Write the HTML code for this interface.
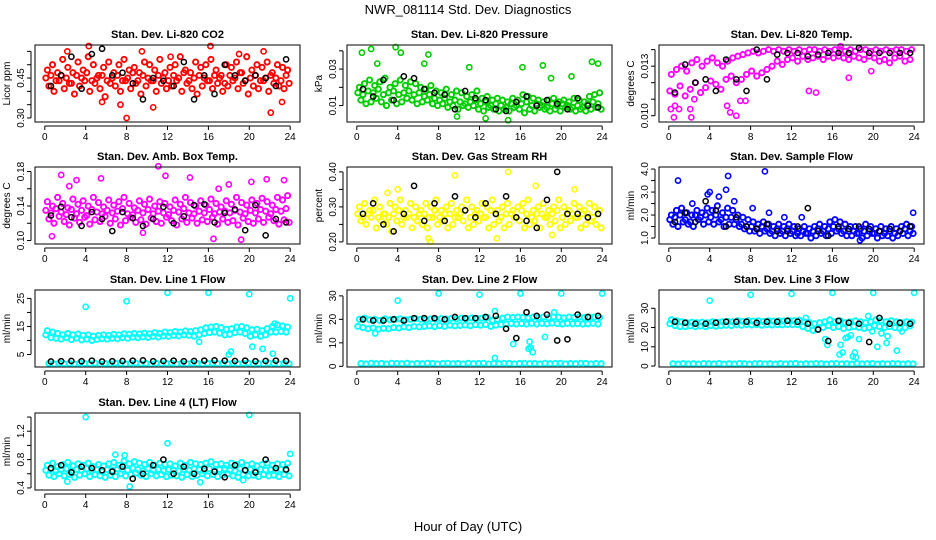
<!DOCTYPE html>
<html><head><meta charset="utf-8"><style>
html,body{margin:0;padding:0;background:#fff}
svg{display:block;font-family:"Liberation Sans",sans-serif}
</style></head><body>
<svg id="chart" width="936" height="540" viewBox="0 0 936 540" xmlns="http://www.w3.org/2000/svg">
<rect width="936" height="540" fill="#fff"/>
<text x="468" y="14" font-size="13" text-anchor="middle">NWR_081114 Std. Dev. Diagnostics</text>
<text x="468" y="531" font-size="13" text-anchor="middle">Hour of Day (UTC)</text>
</svg>
<script>
// ---- data arrays ----
const co2A=[0.48,0.50,0.47,0.52,0.49,0.47,0.51,0.48,0.53,0.50,0.46,0.49,0.51,0.47,0.50,0.52,0.48,0.49,0.47,0.51,0.50,0.48,0.52,0.47,0.49,0.50,0.53,0.48,0.47,0.51,0.49,0.50,0.52,0.48,0.46,0.50,0.49,0.51,0.47,0.53,0.48,0.50,0.49,0.51,0.47,0.50,0.49,0.48];
const co2M=[0.45,0.46,0.44,0.46,0.45,0.43,0.46,0.45,0.47,0.44,0.45,0.46,0.44,0.45,0.46,0.44,0.45,0.47,0.44,0.46,0.45,0.44,0.46,0.45,0.44,0.46,0.45,0.47,0.44,0.45,0.46,0.45,0.44,0.46,0.45,0.43,0.46,0.45,0.47,0.44,0.45,0.46,0.44,0.45,0.46,0.45,0.44,0.46];
const co2B=[0.42,0.40,0.44,0.41,0.43,0.39,0.42,0.44,0.40,0.43,0.41,0.38,0.43,0.42,0.40,0.44,0.41,0.43,0.39,0.42,0.44,0.40,0.43,0.41,0.42,0.44,0.40,0.43,0.41,0.39,0.42,0.44,0.41,0.43,0.40,0.42,0.44,0.41,0.43,0.39,0.42,0.41,0.44,0.40,0.43,0.42,0.41,0.43];
const co2OutH=[2.2,4.3,5.6,7.4,8.0,9.5,10.6,12.3,16.2,19.0,21.4,22.1,23.2];
const co2OutV=[0.55,0.57,0.36,0.35,0.30,0.55,0.34,0.53,0.57,0.54,0.55,0.32,0.36];
const co2Blk=[0.42,0.46,0.53,0.41,0.54,0.56,0.46,0.47,0.43,0.37,0.45,0.44,0.42,0.51,0.37,0.46,0.39,0.50,0.46,0.44,0.46,0.45,0.42,0.52];

const prA=[0.020,0.022,0.024,0.021,0.023,0.025,0.020,0.022,0.024,0.021,0.023,0.022,0.020,0.019,0.021,0.018,0.017,0.019,0.016,0.018,0.017,0.015,0.016,0.018,0.014,0.015,0.013,0.014,0.013,0.012,0.014,0.013,0.016,0.015,0.014,0.013,0.012,0.013,0.014,0.012,0.013,0.012,0.014,0.013,0.012,0.015,0.016,0.017];
const prM=[0.017,0.016,0.018,0.017,0.019,0.016,0.017,0.018,0.016,0.017,0.018,0.016,0.017,0.015,0.016,0.014,0.013,0.014,0.012,0.013,0.012,0.011,0.012,0.013,0.011,0.012,0.010,0.011,0.010,0.009,0.011,0.010,0.011,0.012,0.010,0.011,0.010,0.009,0.011,0.010,0.011,0.010,0.009,0.010,0.009,0.011,0.012,0.011];
const prB=[0.013,0.011,0.012,0.014,0.012,0.010,0.013,0.011,0.012,0.014,0.013,0.011,0.012,0.013,0.011,0.010,0.011,0.009,0.010,0.008,0.010,0.009,0.010,0.008,0.007,0.009,0.008,0.007,0.008,0.007,0.009,0.008,0.006,0.008,0.007,0.009,0.008,0.007,0.008,0.007,0.009,0.008,0.007,0.008,0.007,0.008,0.009,0.008];
const prOutH=[0.5,1.4,2.0,3.8,4.3,6.6,7.0,9.8,11.0,12.6,14.8,16.2,18.2,19.0,21.0,23.0,23.6];
const prOutV=[0.039,0.041,0.033,0.042,0.039,0.033,0.038,0.004,0.031,0.003,0.002,0.031,0.032,0.025,0.026,0.034,0.033];
const prBlk=[0.019,0.015,0.024,0.013,0.026,0.025,0.019,0.017,0.016,0.008,0.018,0.014,0.013,0.008,0.007,0.012,0.015,0.010,0.013,0.011,0.008,0.014,0.010,0.009];

const tmA=[0.0125,0.0128,0.0130,0.0127,0.0132,0.0134,0.0130,0.0133,0.0135,0.0132,0.0130,0.0133,0.0135,0.0136,0.0137,0.0138,0.0139,0.0138,0.0139,0.0140,0.0139,0.0140,0.0139,0.0140,0.0139,0.0140,0.0139,0.0140,0.0140,0.0139,0.0140,0.0139,0.0140,0.0140,0.0139,0.0140,0.0139,0.0140,0.0140,0.0139,0.0140,0.0139,0.0140,0.0139,0.0140,0.0140,0.0139,0.0140];
const tmB=[0.0115,0.0113,0.0118,0.0112,0.0116,0.0120,0.0114,0.0117,0.0121,0.0119,0.0116,0.0122,0.0124,0.0120,0.0122,0.0125,0.0127,0.0124,0.0126,0.0128,0.0130,0.0133,0.0131,0.0134,0.0135,0.0133,0.0136,0.0134,0.0135,0.0136,0.0134,0.0136,0.0135,0.0136,0.0135,0.0134,0.0136,0.0135,0.0134,0.0136,0.0135,0.0133,0.0134,0.0132,0.0135,0.0136,0.0133,0.0134];
const tmOutH=[0.2,0.5,0.6,1.0,2.1,2.2,2.5,5.7,6.0,6.6,7.0,7.5,13.7,14.4,16.8,17.6,19.8];
const tmOutV=[0.0104,0.0099,0.0106,0.0104,0.0104,0.0099,0.0110,0.0106,0.0102,0.0100,0.0109,0.0109,0.0115,0.0114,0.0142,0.0123,0.0127];
const tmBlk=[0.0114,0.0131,0.0120,0.0122,0.0115,0.0134,0.0122,0.0115,0.0140,0.0122,0.0137,0.0138,0.0138,0.0136,0.0137,0.0138,0.0138,0.0138,0.0141,0.0138,0.0138,0.0138,0.0138,0.0138];

const bxA=[0.145,0.140,0.150,0.143,0.138,0.148,0.142,0.146,0.140,0.150,0.144,0.139,0.147,0.141,0.145,0.150,0.143,0.138,0.146,0.142,0.148,0.140,0.145,0.143,0.139,0.147,0.142,0.150,0.144,0.140,0.146,0.141,0.148,0.143,0.139,0.146,0.142,0.150,0.144,0.141,0.147,0.143,0.149,0.145,0.141,0.150,0.147,0.152];
const bxM=[0.135,0.132,0.137,0.133,0.130,0.136,0.131,0.135,0.129,0.136,0.133,0.131,0.135,0.132,0.134,0.137,0.131,0.130,0.135,0.132,0.136,0.131,0.134,0.132,0.130,0.135,0.133,0.137,0.132,0.131,0.134,0.132,0.136,0.131,0.133,0.134,0.132,0.135,0.133,0.131,0.135,0.132,0.136,0.134,0.131,0.136,0.134,0.137];
const bxB=[0.125,0.120,0.128,0.122,0.118,0.126,0.121,0.127,0.119,0.124,0.122,0.128,0.120,0.125,0.118,0.123,0.127,0.121,0.124,0.119,0.126,0.122,0.120,0.127,0.123,0.118,0.125,0.121,0.126,0.120,0.124,0.122,0.127,0.119,0.125,0.121,0.123,0.118,0.126,0.122,0.120,0.125,0.121,0.127,0.123,0.119,0.124,0.121];
const bxOutH=[0.7,1.6,2.4,3.1,5.5,9.6,11.1,11.8,14.2,16.5,17.0,18.0,19.2,20.2,21.7,23.4];
const bxOutV=[0.105,0.176,0.163,0.170,0.172,0.109,0.186,0.175,0.173,0.102,0.160,0.165,0.101,0.168,0.171,0.170];
const bxBlk=[0.129,0.139,0.127,0.117,0.133,0.125,0.111,0.133,0.126,0.117,0.125,0.139,0.120,0.128,0.141,0.142,0.121,0.132,0.136,0.112,0.141,0.106,0.125,0.121];

const rhA=[0.30,0.31,0.29,0.32,0.30,0.28,0.31,0.30,0.32,0.29,0.31,0.30,0.29,0.31,0.30,0.32,0.29,0.30,0.31,0.29,0.30,0.32,0.30,0.29,0.31,0.30,0.32,0.29,0.30,0.31,0.29,0.30,0.31,0.32,0.29,0.30,0.31,0.29,0.30,0.32,0.30,0.29,0.31,0.30,0.29,0.31,0.30,0.29];
const rhM=[0.28,0.27,0.28,0.29,0.27,0.28,0.27,0.28,0.29,0.27,0.28,0.27,0.28,0.28,0.27,0.29,0.27,0.28,0.28,0.27,0.28,0.29,0.27,0.28,0.28,0.27,0.29,0.28,0.27,0.28,0.28,0.27,0.29,0.28,0.27,0.28,0.28,0.27,0.28,0.29,0.27,0.28,0.28,0.27,0.28,0.28,0.27,0.28];
const rhB=[0.26,0.25,0.27,0.24,0.26,0.25,0.23,0.26,0.25,0.27,0.24,0.26,0.25,0.24,0.27,0.25,0.26,0.24,0.25,0.27,0.26,0.24,0.25,0.26,0.27,0.24,0.25,0.26,0.24,0.25,0.27,0.26,0.24,0.25,0.26,0.24,0.27,0.25,0.26,0.24,0.25,0.26,0.27,0.24,0.25,0.26,0.25,0.24];
const rhOutH=[3.0,4.0,7.0,7.2,9.6,13.7,14.8,17.5,19.1,21.3];
const rhOutV=[0.34,0.35,0.21,0.20,0.39,0.21,0.40,0.36,0.22,0.35];
const rhBlk=[0.28,0.31,0.25,0.23,0.28,0.36,0.26,0.31,0.26,0.33,0.29,0.27,0.31,0.28,0.33,0.27,0.26,0.24,0.32,0.40,0.28,0.28,0.27,0.28];

const sfA=[2.0,2.2,2.3,2.1,2.0,2.2,2.1,2.3,2.2,2.4,2.1,2.3,2.2,2.0,1.9,1.8,1.7,1.6,1.7,1.6,1.5,1.6,1.5,1.6,1.5,1.4,1.5,1.4,1.5,1.6,1.5,1.7,1.8,1.7,1.6,1.5,1.5,1.4,1.6,1.5,1.4,1.5,1.4,1.5,1.4,1.5,1.6,1.5];
const sfM=[1.8,1.9,2.0,1.8,1.7,2.0,1.9,2.0,1.9,2.0,1.8,1.9,1.9,1.8,1.6,1.5,1.5,1.4,1.5,1.4,1.3,1.4,1.3,1.4,1.3,1.2,1.3,1.2,1.3,1.4,1.3,1.4,1.5,1.4,1.3,1.3,1.3,1.2,1.3,1.3,1.2,1.3,1.2,1.3,1.2,1.3,1.4,1.3];
const sfB=[1.6,1.5,1.7,1.6,1.5,1.8,1.6,1.7,1.6,1.7,1.5,1.6,1.6,1.5,1.4,1.3,1.3,1.2,1.3,1.2,1.1,1.2,1.1,1.2,1.1,1.1,1.2,1.0,1.1,1.2,1.1,1.2,1.3,1.2,1.1,1.1,1.2,1.0,1.1,1.2,1.0,1.1,1.1,1.0,1.1,1.2,1.1,1.2];
const sfOutH=[0.9,2.3,3.8,4.0,4.9,5.6,5.8,6.4,8.2,9.4,9.8,11.3,13.0,18.7,23.9];
const sfOutV=[3.5,2.5,2.9,3.0,2.8,3.1,3.7,2.6,2.3,3.9,2.1,1.9,1.9,0.9,2.1];
const sfBlk=[1.7,2.1,1.7,2.6,2.2,1.5,1.9,1.5,1.4,1.6,1.3,1.3,1.5,2.3,1.3,1.1,1.5,1.4,1.5,1.4,1.3,1.4,1.3,1.5];

const l1A=[13.5,13.0,12.5,12.0,12.5,12.0,12.3,11.8,12.0,11.5,11.8,12.0,11.8,12.2,12.0,12.4,12.2,12.5,12.3,12.6,12.4,12.8,12.5,13.0,12.8,13.2,13.0,13.4,13.2,13.5,13.8,14.5,14.8,15.0,14.6,14.0,14.2,14.8,15.0,14.5,13.8,14.0,13.5,14.2,15.0,15.5,15.2,14.8];
const l1B=[12.0,11.0,10.8,10.5,11.0,10.3,10.8,10.2,10.5,10.0,10.4,10.6,10.5,10.8,10.6,11.0,10.8,11.2,11.0,11.3,11.1,11.5,11.2,11.6,11.5,11.8,11.6,12.0,11.8,11.5,12.0,12.5,12.8,13.0,12.6,12.0,12.2,12.8,13.0,12.5,11.5,12.0,11.5,12.0,13.0,13.0,13.2,13.0];
const l1Base=[1.8,1.6,1.9,1.7,1.8,1.6,1.9,1.8,1.7,1.9,1.6,1.8,1.7,1.9,1.8,1.6,1.8,1.9,1.7,1.8,1.6,1.9,1.7,1.8,1.9,1.6,1.8,1.7,1.9,1.8,1.6,1.8,1.9,1.7,1.8,1.6,1.9,1.7,1.8,1.9,1.6,1.8,1.7,1.9,1.8,1.6,1.8,1.7];
const l1OutH=[4.0,8.0,12.0,15.1,16.0,18.0,18.2,20.0,20.3,21.3,22.3,22.5,24.0];
const l1OutV=[22,24,27,9.5,27,5,6,26.5,7.8,7,5.3,16,25];
const l1Blk=[2.5,2.6,2.7,2.6,2.8,2.5,2.6,2.7,2.8,2.9,2.6,2.7,2.8,2.6,2.7,2.8,2.9,2.8,2.7,2.8,2.6,2.7,2.8,2.7];

const l2A=[20.0,20.5,19.8,20.0,19.5,20.2,19.8,20.0,20.2,19.8,20.0,20.3,20.0,19.8,20.2,20.0,20.3,20.1,20.4,20.2,20.5,20.3,20.6,20.4,20.5,20.8,19.5,20.0,20.5,21.0,20.8,21.0,20.8,20.6,21.0,20.8,21.0,20.7,21.0,20.9,20.6,21.0,20.8,21.0,20.7,20.9,21.0,20.8];
const l2B=[17.0,16.5,16.0,16.3,15.8,16.2,16.0,16.5,16.3,16.8,16.5,17.0,16.8,17.0,17.2,16.9,17.3,17.0,17.5,17.2,17.4,17.6,17.3,17.7,17.5,17.8,17.0,17.5,17.8,18.0,18.2,18.0,18.2,18.0,18.3,18.0,18.3,18.1,18.4,18.2,18.0,18.3,18.1,18.2,18.0,18.1,18.3,18.0];
const l2Base=[1.2,1.0,1.3,1.1,1.2,1.0,1.3,1.2,1.1,1.3,1.0,1.2,1.1,1.3,1.2,1.0,1.2,1.3,1.1,1.2,1.0,1.3,1.1,1.2,1.3,1.0,1.2,1.1,1.3,1.2,1.0,1.2,1.3,1.1,1.2,1.0,1.3,1.1,1.2,1.3,1.0,1.2,1.1,1.3,1.2,1.0,1.2,1.1];
const l2OutH=[1.8,4.0,8.0,12.0,13.5,13.5,15.3,16.0,16.8,16.9,17.0,17.2,18.4,19.3,20.0,24.0];
const l2OutV=[14,28,31,30.5,23.5,3.5,9.5,31,7.5,10.5,8,6,12.5,23,31,31];
const l2Blk=[20,19.5,19.5,20,19.5,20.5,20.5,20.5,20,21,20.5,20.5,21,21.5,16,12,23,21.5,22,11,11.5,22,21,21.5];

const l3A=[24,23.5,23,22.5,22.8,22.5,22.8,22.5,23,22.7,23,23.2,23,23.5,23.2,23.5,23.3,23.5,23.2,23.5,23.3,23.5,23.4,23.6,23.5,23.8,23.0,22.5,22.0,22.5,23,24,23,23.5,22.5,23,23.5,23,22.5,23,24,23.5,23,23.5,23,22.5,23,22.8];
const l3B=[22,21,20.5,20.5,20.8,20.5,20.8,20.5,21,20.7,21,21.2,21,21.5,21.2,21.5,21.3,21.5,21.2,21.5,21.3,21.5,21.4,21.6,21.5,21.5,20.5,19.5,18.5,19,20,21,20,20.5,19.5,20,20.5,20,19.5,20,21,20.5,20,20.5,20,19.5,20,20.8];
const l3Base=[1.2,1.0,1.3,1.1,1.2,1.0,1.3,1.2,1.1,1.3,1.0,1.2,1.1,1.3,1.2,1.0,1.2,1.3,1.1,1.2,1.0,1.3,1.1,1.2,1.3,1.0,1.2,1.1,1.3,1.2,1.0,1.2,1.3,1.1,1.2,1.0,1.3,1.1,1.2,1.3,1.0,1.2,1.1,1.3,1.2,1.0,1.2,1.1];
const l3OutH=[4,8,12,16,20,24,13.4,15.3,15.5,16.7,16.8,17.0,17.3,17.5,17.8,18.0,18.2,18.3,18.6,19.5,19.9,20.4,20.8,21.3,21.4,22.3,22.8];
const l3OutV=[34,37,37.5,38,38,38,25,14,11,6,11,7,14.5,15,16,5,7,4.5,14,26,18,10,17,12,15.5,8,18];
const l3Blk=[23,22.5,22,22,22.5,23,23,23,22.5,23,23,23.5,23,22,19,13,23.5,22.5,22,12.5,25,22,22.5,22];

const l4A=[0.72,0.75,0.70,0.73,0.76,0.71,0.74,0.72,0.75,0.70,0.73,0.71,0.74,0.76,0.72,0.78,0.74,0.77,0.75,0.73,0.76,0.72,0.75,0.73,0.74,0.71,0.75,0.72,0.76,0.74,0.73,0.75,0.77,0.73,0.74,0.72,0.75,0.73,0.76,0.72,0.74,0.71,0.73,0.75,0.72,0.74,0.73,0.75];
const l4M=[0.65,0.66,0.64,0.66,0.67,0.63,0.66,0.65,0.67,0.64,0.66,0.63,0.66,0.65,0.67,0.66,0.65,0.68,0.66,0.64,0.67,0.65,0.66,0.64,0.66,0.65,0.64,0.66,0.65,0.67,0.66,0.64,0.67,0.65,0.66,0.67,0.65,0.64,0.67,0.65,0.66,0.64,0.66,0.65,0.66,0.64,0.66,0.65];
const l4B=[0.58,0.56,0.60,0.57,0.59,0.55,0.58,0.60,0.56,0.59,0.57,0.55,0.58,0.56,0.60,0.57,0.59,0.61,0.58,0.56,0.60,0.57,0.59,0.56,0.58,0.57,0.55,0.59,0.56,0.58,0.60,0.57,0.59,0.56,0.58,0.60,0.57,0.55,0.59,0.57,0.58,0.56,0.59,0.57,0.58,0.56,0.59,0.57];
const l4OutH=[2.2,4.0,6.9,7.8,8.3,12.0,15.2,19.4,20.0,24.0];
const l4OutV=[0.49,1.4,0.87,0.86,0.42,1.03,0.48,0.51,1.43,0.88];
const l4Blk=[0.68,0.72,0.62,0.70,0.68,0.65,0.63,0.70,0.53,0.60,0.72,0.80,0.60,0.70,0.60,0.67,0.63,0.55,0.72,0.65,0.62,0.80,0.68,0.66];

const xTicks=[0,4,8,12,16,20,24];

const panels=[
 {name:'co2',title:'Stan. Dev. Li-820 CO2',ylab:'Licor ppm',col:'#ff0000',r:0,c:0,lo:0.285,hi:0.574,ticks:[0.30,0.35,0.40,0.45,0.50,0.55],labs:['0.30','0.45'],fix:2,series:[co2A,co2M,co2B],oh:co2OutH,ov:co2OutV,blk:co2Blk},
 {name:'pressure',title:'Stan. Dev. Li-820 Pressure',ylab:'kPa',col:'#00cd00',r:0,c:1,lo:0.001,hi:0.0432,ticks:[0.01,0.02,0.03,0.04],labs:['0.01','0.03'],fix:2,series:[prA,prM,prB],oh:prOutH,ov:prOutV,blk:prBlk},
 {name:'temp',title:'Stan. Dev. Li-820 Temp.',ylab:'degrees C',col:'#ff00ff',r:0,c:2,lo:0.00962,hi:0.01428,ticks:[0.010,0.011,0.012,0.013,0.014],labs:['0.010','0.013'],fix:3,series:[tmA,tmB],oh:tmOutH,ov:tmOutV,blk:tmBlk},
 {name:'box-temp',title:'Stan. Dev. Amb. Box Temp.',ylab:'degrees C',col:'#ff00ff',r:1,c:0,lo:0.096,hi:0.1852,ticks:[0.10,0.12,0.14,0.16,0.18],labs:['0.10','0.14','0.18'],fix:2,series:[bxA,bxM,bxB],oh:bxOutH,ov:bxOutV,blk:bxBlk},
 {name:'rh',title:'Stan. Dev. Gas Stream RH',ylab:'percent',col:'#ffff00',r:1,c:1,lo:0.194,hi:0.414,ticks:[0.20,0.25,0.30,0.35,0.40],labs:['0.20','0.30','0.40'],fix:2,series:[rhA,rhM,rhB],oh:rhOutH,ov:rhOutV,blk:rhBlk},
 {name:'sample-flow',title:'Stan. Dev. Sample Flow',ylab:'ml/min',col:'#0000ff',r:1,c:2,lo:0.74,hi:4.09,ticks:[1.0,1.5,2.0,2.5,3.0,3.5,4.0],labs:['1.0','2.0','3.0','4.0'],fix:1,series:[sfA,sfM,sfB],oh:sfOutH,ov:sfOutV,blk:sfBlk},
 {name:'line1-flow',title:'Stan. Dev. Line 1 Flow',ylab:'ml/min',col:'#00ffff',r:2,c:0,lo:0.54,hi:28.0,ticks:[5,10,15,20,25],labs:['5','15','25'],fix:0,series:[l1A,l1B,l1Base],oh:l1OutH,ov:l1OutV,blk:l1Blk},
 {name:'line2-flow',title:'Stan. Dev. Line 2 Flow',ylab:'ml/min',col:'#00ffff',r:2,c:1,lo:-0.3,hi:32.5,ticks:[0,10,20,30],labs:['0','10','20','30'],fix:0,series:[l2A,l2B,l2Base],oh:l2OutH,ov:l2OutV,blk:l2Blk},
 {name:'line3-flow',title:'Stan. Dev. Line 3 Flow',ylab:'ml/min',col:'#00ffff',r:2,c:2,lo:-0.5,hi:39.5,ticks:[0,10,20,30],labs:['0','10','20','30'],fix:0,series:[l3A,l3B,l3Base],oh:l3OutH,ov:l3OutV,blk:l3Blk},
 {name:'line4-flow',title:'Stan. Dev. Line 4 (LT) Flow',ylab:'ml/min',col:'#00ffff',r:3,c:0,lo:0.371,hi:1.457,ticks:[0.4,0.6,0.8,1.0,1.2,1.4],labs:['0.4','0.8','1.2'],fix:1,series:[l4A,l4M,l4B],oh:l4OutH,ov:l4OutV,blk:l4Blk}
];

const NS='http://www.w3.org/2000/svg';
const svg=document.getElementById('chart');
function mk(tag,attrs,parent){const e=document.createElementNS(NS,tag);for(const k in attrs)e.setAttribute(k,attrs[k]);parent.appendChild(e);return e;}

const LEFTS=[35,347,659],TOPS=[45,167,290,413],W=265,H=77;
panels.forEach(p=>{
  const L=LEFTS[p.c],T=TOPS[p.r],B=T+H,R=L+W;
  const xs=h=>L+(h+0.96)*W/25.92;
  const ys=v=>B-(v-p.lo)/(p.hi-p.lo)*H;
  const g=mk('g',{},svg);
  
  
  const t=mk('text',{x:(L+R)/2,y:T-7,'font-size':11,'font-weight':'bold','text-anchor':'middle'},g);
  t.textContent=p.title;
  
  
  const pts=mk('g',{fill:'none'},g);
  
  
  const offs=[0.25,0.1,0.4];
  p.series.forEach((arr,si)=>{
    arr.forEach((v,i)=>{
      const c=mk('circle',{cx:xs(i*0.5+offs[si]),cy:ys(v),r:2.6,stroke:p.col,'stroke-width':1.9},pts);
      
      
    });
  });
  p.oh.forEach((h,i)=>{
    const c=mk('circle',{cx:xs(h),cy:ys(p.ov[i]),r:2.6,stroke:p.col,'stroke-width':1.6},pts);
    
    
  });
  p.blk.forEach((v,i)=>{
    const c=mk('circle',{cx:xs(i+0.6),cy:ys(v),r:2.6,stroke:'#000','stroke-width':1.5},pts);
    
    
  });
  const box=mk('rect',{x:L,y:T,width:W,height:H,fill:'none',stroke:'#000','stroke-width':1},g);
  
  
  const xa=mk('g',{stroke:'#000','stroke-width':1},g);
  
  
  mk('line',{x1:xs(xTicks[0]),x2:xs(xTicks[xTicks.length-1]),y1:B+4,y2:B+4},xa);
  xTicks.forEach(h=>{
    mk('line',{x1:xs(h),x2:xs(h),y1:B+4,y2:B+8},xa);
    const tl=mk('text',{x:xs(h),y:B+18,'font-size':10,'text-anchor':'middle',stroke:'none'},xa);
    tl.textContent=h;
  });
  const ya=mk('g',{stroke:'#000','stroke-width':1},g);
  
  
  mk('line',{x1:L-4,x2:L-4,y1:ys(p.ticks[0]),y2:ys(p.ticks[p.ticks.length-1])},ya);
  p.ticks.forEach(v=>{
    mk('line',{x1:L-8,x2:L-4,y1:ys(v),y2:ys(v)},ya);
    const s=v.toFixed(p.fix);
    if(p.labs.indexOf(s)>=0){
      const tl=mk('text',{x:L-11,y:ys(v),'font-size':10,'text-anchor':'middle',stroke:'none',transform:`rotate(-90 ${L-11} ${ys(v)})`},ya);
      tl.textContent=s;
    }
  });
  const yl=mk('text',{x:L-25,y:(T+B)/2,'font-size':10,'text-anchor':'middle',transform:`rotate(-90 ${L-25} ${(T+B)/2})`},g);
  yl.textContent=p.ylab;
  
  
});
</script>
</body></html>
